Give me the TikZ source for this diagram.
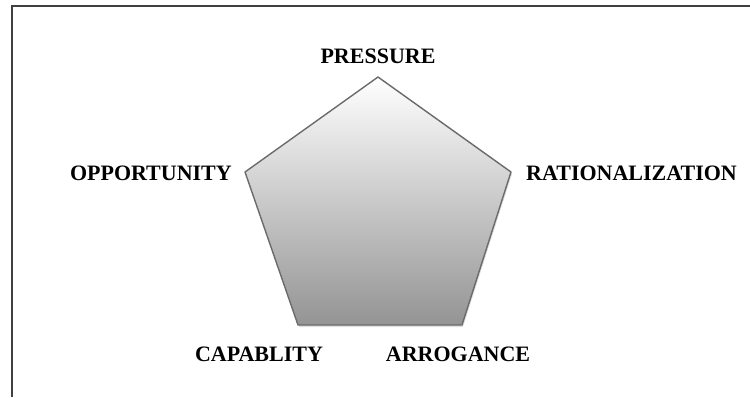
\documentclass[tikz,border=0pt]{standalone}
\usepackage{fontspec}
\setmainfont{Liberation Serif}
\usetikzlibrary{shadows}
\tikzset{corner/.style={font=\fontsize{22}{26}\selectfont\bfseries,inner sep=0pt}}
\begin{document}
\begin{tikzpicture}[x=1pt,y=-1pt]
 \useasboundingbox (0,0) rectangle (750,397);
 \draw[black!75,line width=2pt] (11.5,397) -- (11.5,6) -- (750,6);
 \coordinate (p1) at (378,77); \coordinate (p2) at (511,172); \coordinate (p3) at (462,325);
 \coordinate (p4) at (298,325); \coordinate (p5) at (245,172);
 \shade[top color=white,bottom color=black!42,draw=black!58,line width=1.4pt,line join=round,
   drop shadow={opacity=0.25,shadow xshift=1pt,shadow yshift=-2pt}]
   (p1) -- (p2) -- (p3) -- (p4) -- (p5) -- cycle;
 \node[corner] (pressure) at (378,56) {PRESSURE};
 \node[corner,anchor=east] (opportunity) at (232,173) {OPPORTUNITY};
 \node[corner,anchor=west] (rationalization) at (526,173) {RATIONALIZATION};
 \node[corner] (capablity) at (259,354) {CAPABLITY};
 \node[corner] (arrogance) at (458,354) {ARROGANCE};
\end{tikzpicture}
\end{document}
